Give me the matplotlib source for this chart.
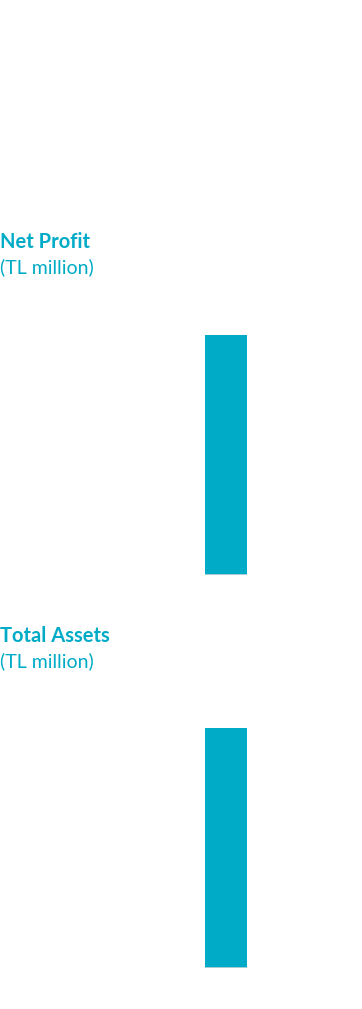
import matplotlib.pyplot as plt

# data
years = ['2019']
net_profit = [100.0]
total_assets = [100.0]

bar_color = '#00abc7'
base_color = '#c8d4d8'
title_color = '#00abc7'

W, H = 362, 1009
fig = plt.figure(figsize=(W / 100, H / 100), dpi=100)


def panel(top_px, bottom_px, values, title, title_y):
    ax = fig.add_axes([0, 1 - bottom_px / H, 1, (bottom_px - top_px) / H])
    x = list(range(len(values)))
    ax.bar(x, values, width=1.0, color=bar_color, linewidth=0)
    ax.hlines(0, -0.5, len(values) - 0.5, color=base_color, lw=1.2)
    # bar centre at 226 px, 42 px wide
    ax.set_xlim(-226 / 42, (W - 226) / 42)
    ax.set_ylim(0, max(values))
    ax.axis('off')
    fig.text(0.0, 1 - title_y / H, title, color=title_color, fontsize=14.5,
             fontweight='bold', family='Lato', va='center', ha='left')
    fig.text(0.0, 1 - (title_y + 25) / H, '(TL million)', color=title_color,
             fontsize=14, family='Lato', va='center', ha='left')
    return ax


panel(335, 575, net_profit, 'Net Profit', 242)
panel(728, 968, total_assets, 'Total Assets', 636)

fig.savefig('out.png', dpi=100)
